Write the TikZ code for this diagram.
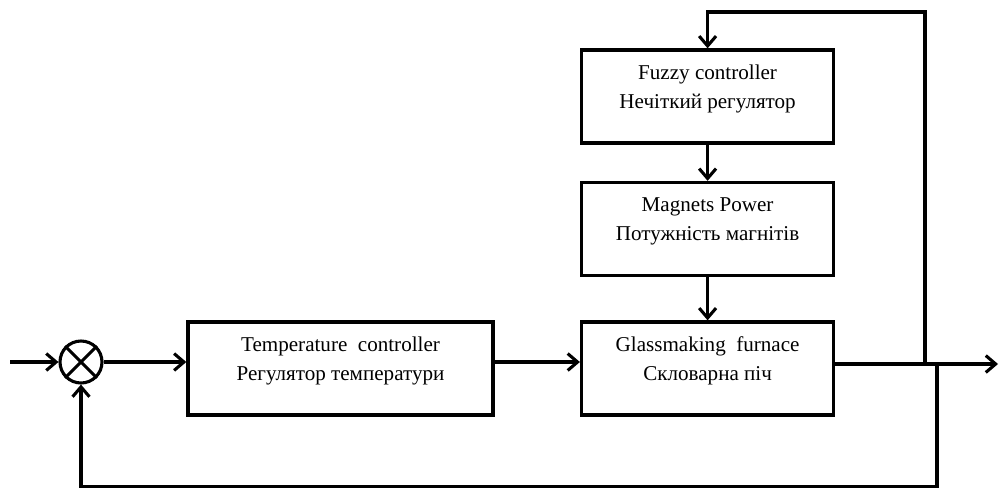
\documentclass[tikz,border=0pt]{standalone}
\usepackage{fontspec}
\setmainfont{Liberation Serif}
\usetikzlibrary{arrows.meta}
\usetikzlibrary{positioning}

\tikzset{
  block/.style={draw, line width=2.4pt, rectangle, align=center,
    minimum height=2.325cm, font=\fontsize{15}{20.6}\selectfont},
  line/.style={line width=2.2pt},
  arr/.style={line width=2.2pt, -{Straight Barb[length=7pt,width=12pt,line width=2.2pt]}}
}
% zwei Zeilen, etwas nach oben geschoben
\newcommand{\twolines}[2]{#1\\#2\\[-7pt]\mbox{}}

\begin{document}
\begin{tikzpicture}
  \useasboundingbox (0,0) rectangle (24.975,12.225);

  % Summierglied
  \node[draw, circle, line width=2.2pt, minimum size=1.05cm, inner sep=0pt] (sum) at (2.025,3.175) {};
  \draw[line] (sum.north west) -- (sum.south east);
  \draw[line] (sum.north east) -- (sum.south west);
  \coordinate (in) at (0.25,3.175);

  % Bloecke
  \node[block, minimum width=7.625cm] (tc) at (8.5125,3.0125) {\twolines{Temperature\ \ controller}{Регулятор температури}};
  \node[block, minimum width=6.3cm] (furnace) at (17.69,3.0125) {\twolines{Glassmaking\ \ furnace}{Скловарна піч}};
  \node[block, minimum width=6.3cm] (magnets) at (17.69,6.5) {\twolines{Magnets Power}{Потужність магнітів}};
  \node[block, minimum width=6.3cm] (fuzzy) at (17.69,9.8125) {\twolines{Fuzzy controller}{Нечіткий регулятор}};

  % Hilfspunkte
  \coordinate (out) at (24.95,3.125);
  \coordinate (top) at (23.125,11.925);
  \coordinate (bot) at (23.425,0.06);

  % Vorwaertszweig
  \draw[arr] (in) -- (sum);
  \draw[arr] (sum) -- (sum -| tc.west);
  \draw[arr] (sum -| tc.east) -- (sum -| furnace.west);
  \draw[arr] (furnace.east |- out) -- (out);
  \draw[arr] (fuzzy) -- (magnets);
  \draw[arr] (magnets) -- (furnace);

  % Rueckfuehrungen
  \draw[arr] (top |- out) -- (top) -| (fuzzy.north);
  \draw[arr] (bot |- out) -- (bot) -| (sum.south);
\end{tikzpicture}
\end{document}
